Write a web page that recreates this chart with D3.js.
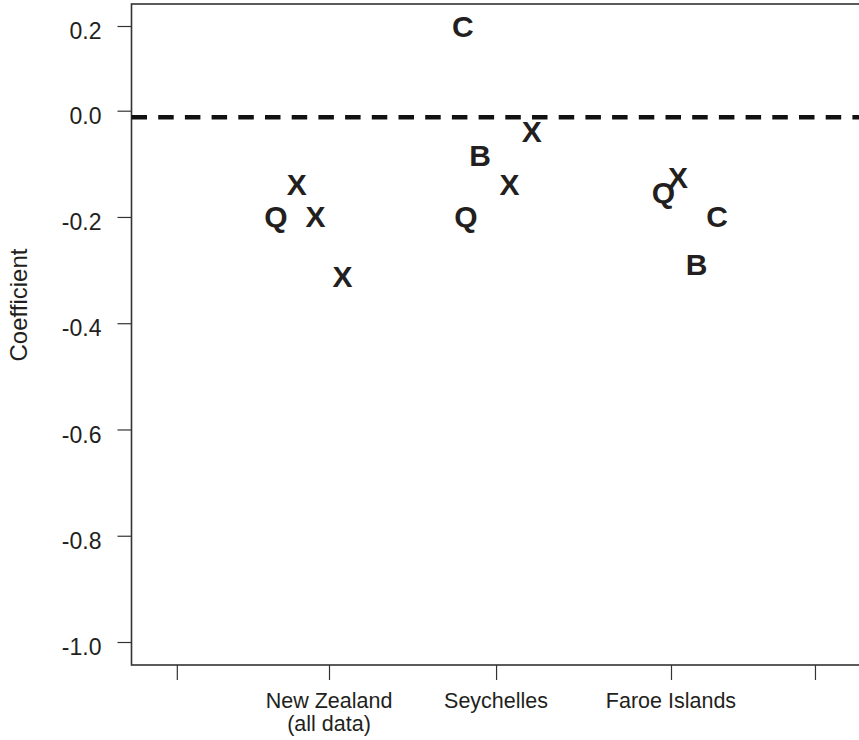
<!DOCTYPE html>
<html>
<head>
<meta charset="utf-8">
<script src="https://cdn.jsdelivr.net/npm/d3@7"></script>
<style>
  body { margin: 0; background: #fff; }
  svg { display: block; font-family: "Liberation Sans", Arial, Helvetica, sans-serif; }
</style>
</head>
<body>
<div id="container"><svg></svg></div>
<script>
let width = 859;
let height = 740;

// groups on the x axis (1, 2, 3), plus two unlabelled end ticks
let groupNames = [["New Zealand", "(all data)"], ["Seychelles"], ["Faroe Islands"]];
let xTickValues = [0.11, 1, 1.977, 3, 3.842];
let xTickLabels = [null, groupNames[0], groupNames[1], groupNames[2], null];

// plotted letters: x position in group units, letter, coefficient
let pointX = [0.689, 0.811, 0.921, 1.079, 1.782, 1.883, 1.801, 2.056, 2.185, 2.955, 3.041, 3.269, 3.150];
let pointLetter = ["Q", "X", "X", "X", "C", "B", "Q", "X", "X", "Q", "X", "C", "B"];
let pointCoef = [-0.198, -0.138, -0.198, -0.311, 0.2, -0.083, -0.198, -0.138, -0.038, -0.153, -0.125, -0.198, -0.289];

// reference line
let refLine = -0.0125;

let yTickValues = [0.2, 0.0, -0.2, -0.4, -0.6, -0.8, -1.0];
let yTitle = "Coefficient";

let plotLeft = 131.5, plotTop = 4, plotBottom = 665, plotRight = 880;

let svg = d3.select('#container')
    .select('svg')
    .attr('width', width)
    .attr('height', height);

// x: group units -> pixels
let x = d3.scaleLinear().domain([1, 3]).range([329, 671]);
// y: the original figure squeezes the top tick, so use a piecewise scale
let y = d3.scaleLinear().domain([-1.0, 0.0, 0.2]).range([642, 110.7, 26]);

let ink = "#231f20";

// plot frame
svg.append("rect")
    .attr("x", plotLeft)
    .attr("y", plotTop)
    .attr("width", plotRight - plotLeft)
    .attr("height", plotBottom - plotTop)
    .attr("fill", "none")
    .attr("stroke", "#333")
    .attr("stroke-width", 1.6);

// y axis
let yAxis = svg.append("g")
    .attr("transform", `translate(${plotLeft},0)`)
    .call(d3.axisLeft(y).tickValues(yTickValues).tickSize(14).tickPadding(0)
        .tickFormat(d3.format(".1f")));
yAxis.select(".domain").remove();
yAxis.selectAll(".tick line").attr("stroke", "#333").attr("stroke-width", 1.2);
yAxis.selectAll(".tick text")
    .attr("x", -30)
    .attr("dy", "0.55em")
    .attr("font-size", 23)
    .attr("fill", ink)
    .text(d => d3.format(".1f")(d).replace("−", "-"));

// x axis: ticks only, labels drawn below
let xAxis = svg.append("g")
    .attr("transform", `translate(0,${plotBottom})`)
    .call(d3.axisBottom(x).tickValues(xTickValues).tickSize(15).tickFormat(""));
xAxis.select(".domain").remove();
xAxis.selectAll(".tick line").attr("stroke", "#333").attr("stroke-width", 1.2);

let xLab = svg.append("g")
    .selectAll("text")
    .data(xTickValues.map((v, i) => ({ v: v, lines: xTickLabels[i] })).filter(d => d.lines))
    .join("text")
    .attr("x", d => x(d.v))
    .attr("y", 708)
    .attr("text-anchor", "middle")
    .attr("font-size", 21.5)
    .attr("fill", ink);
xLab.selectAll("tspan")
    .data(d => d.lines.map(l => ({ l: l, x: x(d.v) })))
    .join("tspan")
    .attr("x", d => d.x)
    .attr("dy", (d, i) => i === 0 ? 0 : 23)
    .text(d => d.l);

// y title
svg.append("text")
    .attr("transform", "translate(27,305) rotate(-90)")
    .attr("text-anchor", "middle")
    .attr("font-size", 24)
    .attr("fill", ink)
    .text(yTitle);

// dashed reference line
svg.append("line")
    .attr("x1", plotLeft)
    .attr("x2", width)
    .attr("y1", y(refLine))
    .attr("y2", y(refLine))
    .attr("stroke", "#111")
    .attr("stroke-width", 4.5)
    .attr("stroke-dasharray", "15.5,11.2");

// letters
svg.append("g")
    .selectAll("text")
    .data(pointLetter.map((l, i) => ({ l: l, gx: pointX[i], v: pointCoef[i] })))
    .join("text")
    .attr("x", d => x(d.gx))
    .attr("y", d => y(d.v))
    .attr("dy", "0.36em")
    .attr("text-anchor", "middle")
    .attr("font-size", 30)
    .attr("font-weight", "bold")
    .attr("fill", ink)
    .text(d => d.l);
</script>
</body>
</html>
